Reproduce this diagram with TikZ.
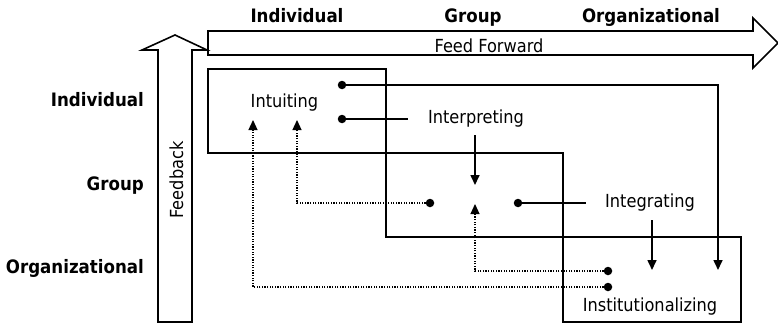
\documentclass[tikz,border=0pt]{standalone}
\usepackage{fontspec}
\setmainfont{DejaVu Sans Condensed}
\usetikzlibrary{arrows.meta}
\begin{document}
\begin{tikzpicture}[x=1pt,y=-1pt,
  lvl/.style={font=\bfseries\fontsize{18.5}{21}\selectfont, inner sep=0, anchor=base},
  lbl/.style={font=\fontsize{18}{20}\selectfont, inner sep=0, anchor=base},
  stage/.style={draw, line width=1.6pt, inner sep=0, outer sep=0},
  bigarrow/.style={draw, line width=1.6pt, line join=miter},
  dot/.style={circle, fill, inner sep=0, minimum size=8.5pt},
  link/.style={line width=1.6pt},
  flow/.style={line width=1.6pt, -{Triangle[length=10pt,width=9pt]}},
  back/.style={line width=1.2pt, dash pattern=on 1.2pt off 1.4pt, -{Triangle[length=10pt,width=9pt]}}
]
\fill[white] (0,0) rectangle (778,324);
\useasboundingbox (0,0) rectangle (778,324);

% level headings
\node[lvl] (colind) at (297,22) {Individual};
\node[lvl] (colgrp) at (473,22) {Group};
\node[lvl] (colorg) at (651,22) {Organizational};
\node[lvl, anchor=base east] (rowind) at (144,106) {Individual};
\node[lvl, anchor=base east] (rowgrp) at (144,190) {Group};
\node[lvl, anchor=base east] (roworg) at (144,273) {Organizational};

% feedback and feed-forward block arrows
\draw[bigarrow] (158,322) -- (158,50) -- (142,50) -- (175,35) -- (207,50) -- (192,50) -- (192,322) -- cycle;
\draw[bigarrow] (208,31) -- (753,31) -- (753,18) -- (778,43) -- (753,68) -- (753,55) -- (208,55) -- cycle;
\node[lbl, rotate=90] (fb) at (183,180) {Feedback};
\node[lbl] (ff) at (489,52) {Feed Forward};

% the three staircase boxes
\node[stage, minimum width=178pt, minimum height=84pt] (boxind) at (297,111) {};
\node[stage, minimum width=177pt, minimum height=84pt] (boxgrp) at (474.5,195) {};
\node[stage, minimum width=178pt, minimum height=85pt] (boxorg) at (652,279.5) {};

% process names
\node[lbl] (intu) at (284.5,107) {Intuiting};
\node[lbl] (interp) at (476,123) {Interpreting};
\node[lbl] (integ) at (650,207) {Integrating};
\node[lbl] (inst) at (650,311) {Institutionalizing};

% connector dots
\node[dot] (d1) at (342,85) {};
\node[dot] (d2) at (342,119) {};
\node[dot] (d4) at (430,203) {};
\node[dot] (d5) at (518,203) {};
\node[dot] (d6) at (608,271) {};
\node[dot] (d7) at (608,287) {};

% connector ends
\coordinate (t1) at (718,270);
\coordinate (e2) at (408,119);
\coordinate (s3) at (475,135);
\coordinate (t3) at (475,185);
\coordinate (t4) at (297,120);
\coordinate (e5) at (586,203);
\coordinate (s6) at (652,220);
\coordinate (t6) at (652,270);
\coordinate (t7) at (475,204);
\coordinate (t8) at (253,120);

% feed-forward connectors
\draw[flow] (d1) -| (t1);
\draw[link] (d2) -- (e2);
\draw[flow] (s3) -- (t3);
\draw[link] (d5) -- (e5);
\draw[flow] (s6) -- (t6);

% feedback connectors
\draw[back] (d4) -| (t4);
\draw[back] (d6) -| (t7);
\draw[back] (d7) -| (t8);
\end{tikzpicture}
\end{document}
